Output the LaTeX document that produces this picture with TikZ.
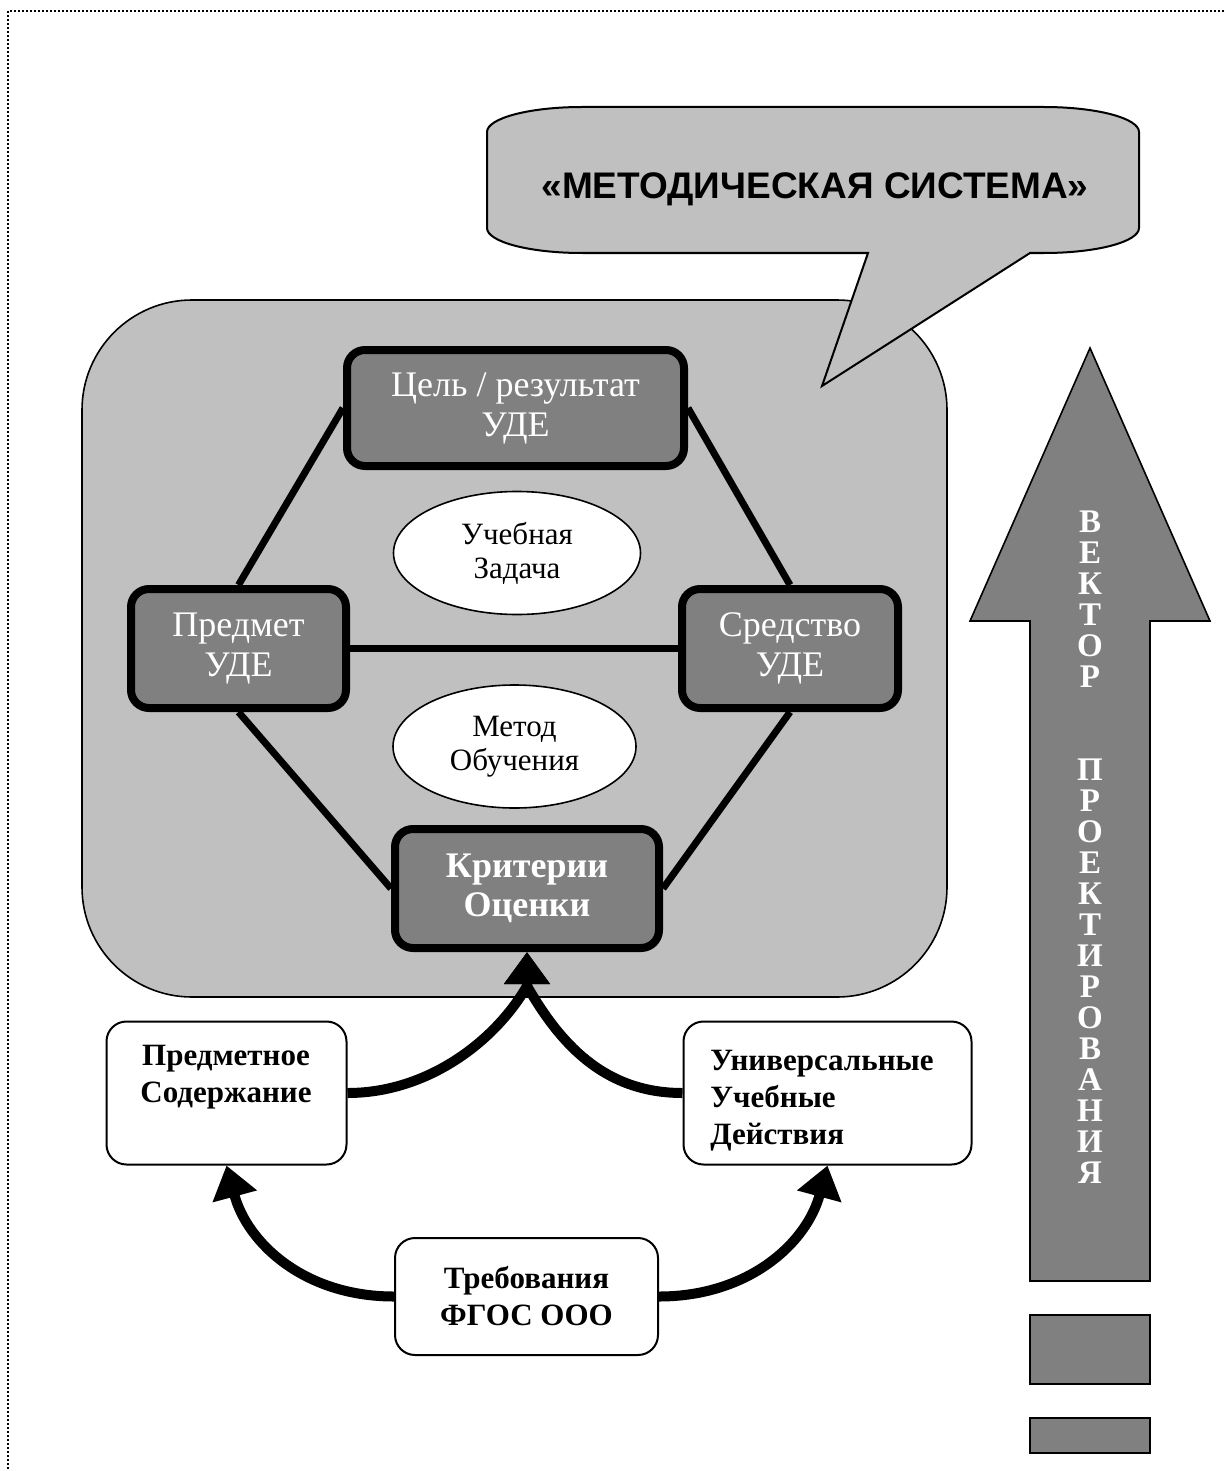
\documentclass[tikz,border=0pt]{standalone}
\usepackage{fontspec}
\setmainfont{Liberation Serif}
\newfontfamily\arialfont{Liberation Sans}
\usetikzlibrary{shapes.geometric,arrows.meta}
\definecolor{silverfill}{HTML}{C0C0C0}
\definecolor{darkfill}{HTML}{808080}
\pgfdeclarelayer{back}
\pgfdeclarelayer{mid}
\pgfsetlayers{back,mid,main}
\begin{document}
\begin{tikzpicture}[x=0.5pt,y=-0.5pt,
  hexbox/.style={draw=black,line width=4pt,fill=darkfill,rounded corners=9pt,text=white,align=center,inner sep=0pt,font=\fontsize{18pt}{20pt}\selectfont},
  ovalnode/.style={ellipse,draw=black,line width=0.8pt,fill=white,inner sep=0pt,align=center,font=\fontsize{15.5pt}{17pt}\selectfont},
  whitebox/.style={draw=black,line width=1pt,fill=white,rounded corners=10pt,inner sep=0pt},
  boldtext/.style={inner sep=0pt,font=\bfseries\fontsize{15.5pt}{18.5pt}\selectfont},
  linkline/.style={line width=3.5pt},
  flowarrow/.style={line width=5pt,-{Triangle[width=22pt,length=16pt]}},
]
\useasboundingbox (0,0) rectangle (1224,1471);

% dotted frame
\draw[line width=1pt,dash pattern=on 1pt off 1pt] (1224,11) -- (8,11) -- (8,1471);

\begin{pgfonlayer}{back}
% system panel
\draw[fill=silverfill,line width=0.8pt,rounded corners=55pt] (82,300) rectangle (947,997);
% callout
\draw[fill=silverfill,line width=1pt] (582,107) -- (1044,107)
  .. controls (1096.5,107) and (1139,118.2) .. (1139,132) -- (1139,228)
  .. controls (1139,241.8) and (1096.5,253) .. (1044,253) -- (1030,253)
  -- (822,386) -- (868,253) -- (582,253)
  .. controls (529.5,253) and (487,241.8) .. (487,228) -- (487,132)
  .. controls (487,118.2) and (529.5,107) .. (582,107) -- cycle;
\end{pgfonlayer}

\node[font=\arialfont\bfseries\fontsize{18.5pt}{20pt}\selectfont,inner sep=0pt] (title) at (815,189) {«МЕТОДИЧЕСКАЯ СИСТЕМА»};

% hexagon nodes
\node[hexbox,minimum width=168.5pt,minimum height=58pt] (goal) at (515.5,408) {Цель / результат\\УДЕ};
\node[hexbox,minimum width=107.5pt,minimum height=59.5pt] (subj) at (238.5,648.5) {Предмет\\УДЕ};
\node[hexbox,minimum width=108pt,minimum height=59.5pt] (means) at (790,648.5) {Средство\\УДЕ};
\node[hexbox,minimum width=132pt,minimum height=59.5pt,font=\bfseries\fontsize{18pt}{19.5pt}\selectfont] (crit) at (527,888.5) {Критерии\\Оценки};

\node[ovalnode,minimum width=123.5pt,minimum height=61.5pt] (task) at (517,553) {Учебная\\Задача};
\node[ovalnode,minimum width=121.5pt,minimum height=61.5pt] (method) at (514.5,746.5) {Метод\\Обучения};

\begin{pgfonlayer}{mid}
\draw[linkline] (goal.west) -- (subj.north);
\draw[linkline] (goal.east) -- (means.north);
\draw[linkline] (subj.east) -- (means.west);
\draw[linkline] (subj.south) -- (crit.west);
\draw[linkline] (means.south) -- (crit.east);
\end{pgfonlayer}

% lower boxes
\node[whitebox,minimum width=120pt,minimum height=71.5pt] (contentbox) at (226.5,1093) {};
\node[boldtext,anchor=north,align=center] (contenttxt) at (226,1045) {Предметное\\Содержание};
\node[whitebox,minimum width=144pt,minimum height=71.5pt] (uudbox) at (827.5,1093) {};
\node[boldtext,anchor=north west,align=left] (uudtxt) at (710,1050) {Универсальные\\Учебные\\Действия};
\node[whitebox,boldtext,minimum width=131.5pt,minimum height=58.5pt,align=center] (req) at (526.5,1296.5) {Требования\\ФГОС ООО};

% base of the shared arrowhead under "Критерии Оценки"
\coordinate (critbase) at ([yshift=-17pt]crit.south);

% curved arrows
\draw[flowarrow] (contentbox.east) to[out=0,in=-120,out distance=40pt,in distance=32pt] (critbase) -- (crit.south);
\draw[flowarrow] (uudbox.west) to[out=180,in=-60,out distance=40pt,in distance=32pt] (critbase) -- (crit.south);
\draw[flowarrow] (req.west) to[out=180,in=-75,out distance=45pt,in distance=40pt] (contentbox.south);
\draw[flowarrow] (req.east) to[out=0,in=-105,out distance=45pt,in distance=40pt] (uudbox.south);

% design vector arrow
\draw[fill=darkfill,line width=0.8pt] (1030,1281) -- (1030,621) -- (970,621) -- (1090,348) -- (1210,621) -- (1150,621) -- (1150,1281) -- cycle;
\node[text=white,font=\bfseries\fontsize{16.5pt}{15.5pt}\selectfont,align=center,inner sep=0pt] (vec) at (1090,847) {В\\Е\\К\\Т\\О\\Р\\[31pt]П\\Р\\О\\Е\\К\\Т\\И\\Р\\О\\В\\А\\Н\\И\\Я};
\draw[fill=darkfill,line width=1pt] (1030,1315) rectangle (1150,1384);
\draw[fill=darkfill,line width=1pt] (1030,1418) rectangle (1150,1453);
\end{tikzpicture}
\end{document}
